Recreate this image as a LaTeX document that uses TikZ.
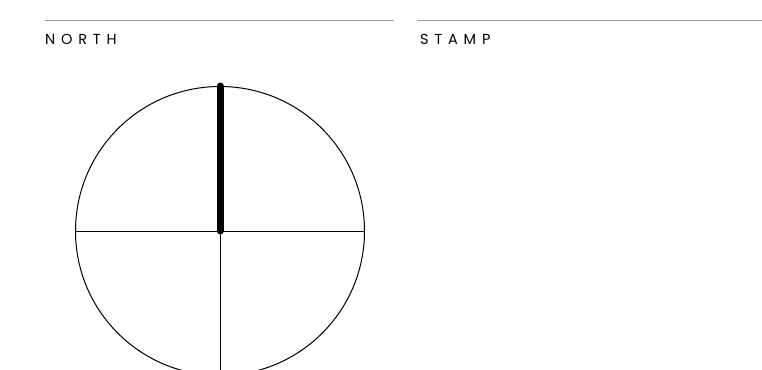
\documentclass[tikz,border=0pt]{standalone}
\usepackage{fontspec}
\setmainfont{Poppins}
\usepackage{xcolor}
\definecolor{rulegray}{gray}{0.6}
\tikzset{
  rulerline/.style={draw=rulegray,line width=1pt},
  heading/.style={anchor=base west,inner sep=0pt,font=\fontsize{14.5}{16}\selectfont\addfontfeatures{LetterSpace=40}},
  thinline/.style={line width=1pt},
  needle/.style={line width=7pt,line cap=round}
}
\begin{document}
\begin{tikzpicture}[x=1pt,y=-1pt]
\useasboundingbox (0,0) rectangle (762,369);
\clip (0,0) rectangle (762,369);
\coordinate (ruleAa) at (45,21);
\coordinate (ruleAb) at (394,21);
\coordinate (ruleBa) at (417,21);
\coordinate (ruleBb) at (762,21);
\draw[rulerline] (ruleAa)--(ruleAb);
\draw[rulerline] (ruleBa)--(ruleBb);
\node[heading] (north) at (45,45) {NORTH};
\node[heading] (stamp) at (420,45) {STAMP};
\coordinate (ctr) at (220,231);
\node[circle,draw,thinline,inner sep=0pt,minimum size=289pt] (dial) at (ctr) {};
\draw[thinline] (dial.west)--(dial.east);
\draw[thinline] (ctr)--(dial.south);
\draw[needle] (ctr)--(dial.north);
\end{tikzpicture}
\end{document}
